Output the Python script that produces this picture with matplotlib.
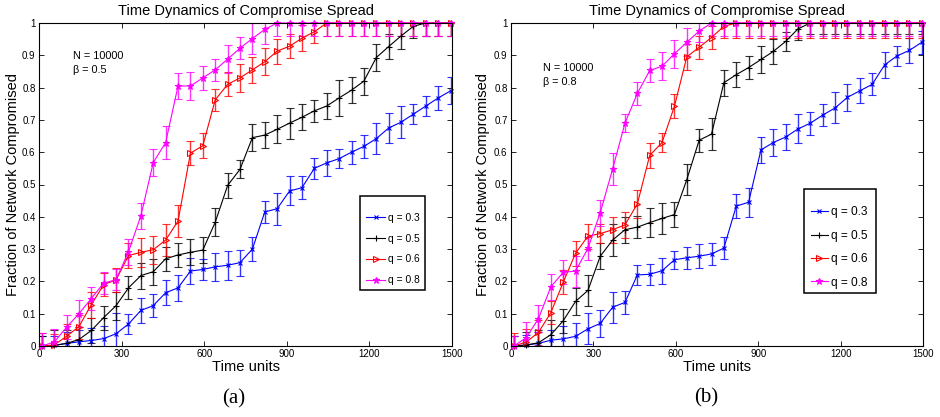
import matplotlib
matplotlib.use("Agg")
import matplotlib.pyplot as plt
from matplotlib.ticker import FixedLocator
from matplotlib.lines import Line2D
from matplotlib.patches import Rectangle

# ---------------- data ----------------
time = [10, 55, 100, 145, 190, 235, 280, 325, 370, 415, 460, 505, 550, 595, 640, 685, 730,
        775, 820, 865, 910, 955, 1000, 1045, 1090, 1135, 1180, 1225, 1270, 1315, 1360,
        1405, 1450, 1495]

labels = ["q = 0.3", "q = 0.5", "q = 0.6", "q = 0.8"]

# panel (a): beta = 0.5
a_q03 = [0.0, 0.002, 0.008, 0.013, 0.017, 0.023, 0.038, 0.068, 0.11, 0.125, 0.165, 0.18,
         0.232, 0.237, 0.245, 0.25, 0.258, 0.30, 0.415, 0.425, 0.48, 0.49, 0.55, 0.567,
         0.58, 0.60, 0.618, 0.642, 0.675, 0.693, 0.718, 0.743, 0.768, 0.79]
a_q03_err = [0.03, 0.03, 0.035, 0.035, 0.04, 0.04, 0.065, 0.03, 0.04, 0.036, 0.038, 0.04,
             0.041, 0.033, 0.043, 0.045, 0.04, 0.038, 0.035, 0.049, 0.045, 0.035, 0.033,
             0.04, 0.03, 0.035, 0.035, 0.048, 0.046, 0.05, 0.032, 0.032, 0.038, 0.042]
a_q05 = [0.0, 0.002, 0.008, 0.02, 0.048, 0.088, 0.125, 0.18, 0.218, 0.23, 0.27, 0.282,
         0.29, 0.297, 0.383, 0.497, 0.547, 0.645, 0.653, 0.671, 0.69, 0.708, 0.728, 0.743,
         0.768, 0.792, 0.82, 0.893, 0.927, 0.96, 0.99, 1.0, 1.0, 1.0]
a_q05_err = [0.03, 0.046, 0.04, 0.04, 0.04, 0.037, 0.043, 0.036, 0.04, 0.04, 0.038, 0.038,
             0.04, 0.04, 0.043, 0.038, 0.028, 0.042, 0.04, 0.043, 0.048, 0.04, 0.033, 0.04,
             0.057, 0.04, 0.042, 0.043, 0.038, 0.04, 0.035, 0.04, 0.04, 0.04]
a_q06 = [0.0, 0.003, 0.03, 0.06, 0.128, 0.19, 0.205, 0.28, 0.29, 0.298, 0.328, 0.387,
         0.597, 0.62, 0.762, 0.81, 0.83, 0.855, 0.88, 0.913, 0.928, 0.953, 0.973, 1.0,
         1.0, 1.0, 1.0, 1.0, 1.0, 1.0, 1.0, 1.0, 1.0, 1.0]
a_q06_err = [0.04, 0.035, 0.037, 0.037, 0.04, 0.035, 0.037, 0.04, 0.045, 0.044, 0.05, 0.048,
             0.038, 0.039, 0.035, 0.037, 0.043, 0.04, 0.042, 0.039, 0.037, 0.04, 0.035,
             0.04, 0.04, 0.04, 0.04, 0.04, 0.04, 0.04, 0.04, 0.04, 0.04, 0.04]
a_q08 = [0.0, 0.012, 0.058, 0.10, 0.147, 0.195, 0.205, 0.292, 0.403, 0.568, 0.63, 0.805,
         0.805, 0.83, 0.855, 0.888, 0.922, 0.952, 0.98, 1.0, 1.0, 1.0, 1.0, 1.0, 1.0, 1.0,
         1.0, 1.0, 1.0, 1.0, 1.0, 1.0, 1.0, 1.0]
a_q08_err = [0.04, 0.04, 0.037, 0.042, 0.035, 0.035, 0.033, 0.04, 0.04, 0.043, 0.05, 0.039,
             0.042, 0.036, 0.035, 0.043, 0.034, 0.047, 0.045, 0.04, 0.04, 0.04, 0.04, 0.04,
             0.04, 0.04, 0.04, 0.04, 0.04, 0.04, 0.04, 0.04, 0.04, 0.04]

# panel (b): beta = 0.8
b_q03 = [0.0, 0.003, 0.008, 0.018, 0.022, 0.03, 0.053, 0.07, 0.12, 0.135, 0.22, 0.222,
         0.233, 0.267, 0.273, 0.278, 0.285, 0.303, 0.433, 0.445, 0.607, 0.63, 0.647,
         0.672, 0.69, 0.715, 0.737, 0.77, 0.79, 0.81, 0.87, 0.898, 0.915, 0.94]
b_q03_err = [0.03, 0.03, 0.035, 0.03, 0.04, 0.04, 0.048, 0.043, 0.048, 0.035, 0.032, 0.033,
             0.04, 0.028, 0.035, 0.038, 0.033, 0.035, 0.037, 0.045, 0.039, 0.043, 0.039,
             0.045, 0.036, 0.033, 0.048, 0.042, 0.039, 0.034, 0.04, 0.03, 0.04, 0.035]
b_q05 = [0.0, 0.003, 0.01, 0.035, 0.078, 0.138, 0.172, 0.278, 0.328, 0.36, 0.368, 0.382,
         0.395, 0.407, 0.515, 0.637, 0.656, 0.815, 0.84, 0.862, 0.887, 0.912, 0.943,
         0.982, 1.0, 1.0, 1.0, 1.0, 1.0, 1.0, 1.0, 1.0, 1.0, 1.0]
b_q05_err = [0.03, 0.04, 0.04, 0.045, 0.038, 0.043, 0.048, 0.04, 0.05, 0.04, 0.035, 0.046,
             0.048, 0.04, 0.047, 0.035, 0.05, 0.04, 0.038, 0.035, 0.042, 0.04, 0.03, 0.035,
             0.033, 0.033, 0.033, 0.033, 0.033, 0.033, 0.033, 0.033, 0.033, 0.033]
b_q06 = [0.0, 0.012, 0.042, 0.103, 0.197, 0.287, 0.34, 0.348, 0.36, 0.375, 0.44, 0.59,
         0.63, 0.742, 0.895, 0.925, 0.955, 0.99, 1.0, 1.0, 1.0, 1.0, 1.0, 1.0, 1.0, 1.0,
         1.0, 1.0, 1.0, 1.0, 1.0, 1.0, 1.0, 1.0]
b_q06_err = [0.04, 0.04, 0.04, 0.036, 0.037, 0.038, 0.039, 0.03, 0.04, 0.04, 0.044, 0.04,
             0.03, 0.037, 0.04, 0.035, 0.035, 0.035, 0.045, 0.045, 0.045, 0.045, 0.045,
             0.045, 0.045, 0.045, 0.045, 0.045, 0.045, 0.045, 0.045, 0.045, 0.045, 0.045]
b_q08 = [0.0, 0.025, 0.085, 0.183, 0.228, 0.232, 0.302, 0.413, 0.548, 0.69, 0.782, 0.853,
         0.866, 0.905, 0.94, 0.975, 1.0, 1.0, 1.0, 1.0, 1.0, 1.0, 1.0, 1.0, 1.0, 1.0, 1.0,
         1.0, 1.0, 1.0, 1.0, 1.0, 1.0, 1.0]
b_q08_err = [0.03, 0.05, 0.042, 0.04, 0.037, 0.048, 0.035, 0.04, 0.05, 0.027, 0.036, 0.036,
             0.043, 0.043, 0.043, 0.035, 0.04, 0.04, 0.04, 0.04, 0.04, 0.04, 0.04, 0.04,
             0.04, 0.04, 0.04, 0.04, 0.04, 0.04, 0.04, 0.04, 0.04, 0.04]

x_ticks = [0, 300, 600, 900, 1200, 1500]
y_ticks = [0, 0.1, 0.2, 0.3, 0.4, 0.5, 0.6, 0.7, 0.8, 0.9, 1.0]
y_tick_labels = ["0", "0.1", "0.2", "0.3", "0.4", "0.5", "0.6", "0.7", "0.8", "0.9", "1"]

# ---------------- style ----------------
plt.rcParams['font.family'] = ['Liberation Sans', 'DejaVu Sans']
colors = ['#0000ff', '#000000', '#ff0000', '#ff00ff']
styles = [dict(marker='x', ms=3, mew=0.8, mfc='none'),
          dict(marker='+', ms=5, mew=0.8, mfc='none'),
          dict(marker='>', ms=4, mew=0.8, mfc='none'),
          dict(marker='*', ms=4.5, mew=0.8)]

fig = plt.figure(figsize=(9.4, 4.17), dpi=100)
ax_a = fig.add_axes([39 / 940, 1 - 346 / 417, 413 / 940, 323 / 417])
ax_b = fig.add_axes([511 / 940, 1 - 346 / 417, 412 / 940, 323 / 417])

# per panel: axes, series, note text, note position, legend box (x0, y0, x1, y1),
# legend anchor, legend font, handle length, handle pad, label spacing, tag, tag pos, ylabel x
panels = [
    (ax_a, [(a_q03, a_q03_err), (a_q05, a_q05_err), (a_q06, a_q06_err), (a_q08, a_q08_err)],
     "N = 10000\n\u03b2 = 0.5", (34 / 413, 1 - 28 / 323),
     (0.777, 0.173, 0.935, 0.464), (0.792, 0.300), 7.4, 1.85, 0.25, 1.05,
     "(a)", (234, 399), -0.047),
    (ax_b, [(b_q03, b_q03_err), (b_q05, b_q05_err), (b_q06, b_q06_err), (b_q08, b_q08_err)],
     "N = 10000\n\u03b2 = 0.8", (32 / 412, 1 - 40 / 323),
     (0.711, 0.164, 0.886, 0.486), (0.728, 0.305), 8.6, 1.42, 0.3, 0.95,
     "(b)", (706, 398), -0.051),
]

for (ax, series, note, note_pos, box, leg_anchor, leg_fs, hlen, hpad, lspace,
     tag, tag_pos, ylab_x) in panels:
    handles = []
    for (vals, errs), col, st, lab in zip(series, colors, styles, labels):
        line, caps, bars = ax.errorbar(time, vals, yerr=errs, color=col, lw=0.8,
                                       elinewidth=1.0, capsize=3.2, capthick=1.0, **st)
        line.set_clip_on(False)
        for b in bars:
            b.set_alpha(0.8)
        for c in caps:
            c.set_alpha(0.8)
        handles.append(Line2D([], [], color=col, lw=0.8, label=lab, **st))
    ax.set_xlim(0, 1500)
    ax.set_ylim(0, 1)
    ax.xaxis.set_major_locator(FixedLocator(x_ticks))
    ax.set_yticks(y_ticks)
    ax.set_yticklabels(y_tick_labels)
    ax.tick_params(direction='in', top=True, right=True, length=3.5, width=0.6,
                   labelsize=7.0, pad=2.5)
    for s in ax.spines.values():
        s.set_linewidth(0.8)
    ax.set_title("Time Dynamics of Compromise Spread", fontsize=10.5, pad=5.5)
    ax.set_xlabel("Time units", fontsize=10.6, labelpad=0.5)
    ax.set_ylabel("Fraction of Network Compromised", fontsize=10.5)
    ax.yaxis.set_label_coords(ylab_x, 0.5)
    ax.text(note_pos[0], note_pos[1], note, transform=ax.transAxes, fontsize=7.8,
            va='top', ha='left', linespacing=1.55)
    # legend frame
    ax.add_patch(Rectangle((box[0], box[1]), box[2] - box[0], box[3] - box[1],
                           transform=ax.transAxes, facecolor='white', edgecolor='black',
                           lw=1.1, zorder=4))
    leg = ax.legend(handles=handles, loc='center left', bbox_to_anchor=leg_anchor,
                    fontsize=leg_fs, frameon=False, labelspacing=lspace,
                    handlelength=hlen, handletextpad=hpad, borderpad=0,
                    borderaxespad=0)
    leg.set_zorder(5)
    fig.text(tag_pos[0] / 940, 1 - tag_pos[1] / 417, tag, fontsize=15,
             family='Liberation Serif', ha='center', va='center')

fig.savefig("out.png", dpi=100)
